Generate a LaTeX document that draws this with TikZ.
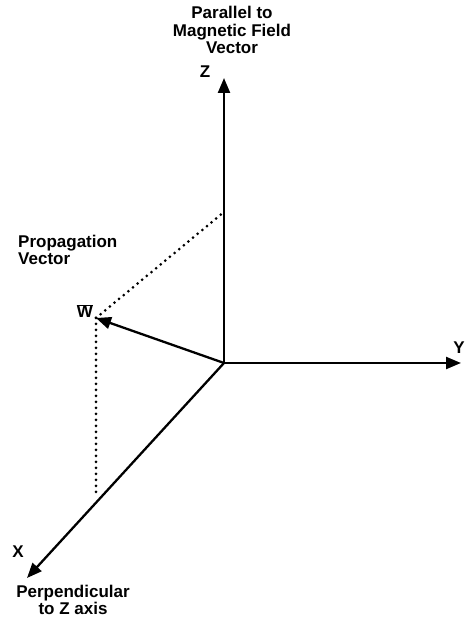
\documentclass[tikz,border=0pt]{standalone}
\usepackage{fontspec}
\setmainfont{Liberation Sans}
\usetikzlibrary{arrows.meta}

\begin{document}
\begin{tikzpicture}[x=1pt,y=1pt,
             axis/.style={line width=2.3pt,-{Triangle[length=15pt,width=12pt]}},
             proj/.style={line width=3pt,line cap=round,dash pattern=on 0pt off 6pt},
             lbl/.style={font=\fontsize{17}{17.5}\selectfont\bfseries,align=center,inner sep=0pt}]
            \useasboundingbox (0,0) rectangle (466,622);
            \draw (224,259) coordinate (O);
            \draw (224,544) coordinate (Z);
            \draw (461,259) coordinate (Y);
            \draw (27,44) coordinate (X);
            \draw (96,304) coordinate (W);
            \draw (224,410) coordinate (Zp);
            \draw (96,127) coordinate (Xp);
            \draw[axis] (O)--(Z);
            \draw[axis] (O)--(Y);
            \draw[axis] (O)--(X);
            \draw[axis] (O)--(W);
            \draw[proj] (W)--(Zp);
            \draw[proj] (W)--(Xp);
            \draw (232,592) node[lbl] (par) {Parallel to\\Magnetic Field\\Vector};
            \draw (205,550) node[lbl] (zl) {Z};
            \draw (465,268) node[lbl,anchor=south east] (yl) {Y};
            \draw (18,70) node[lbl] (xl) {X};
            \draw (85,311) node[lbl] (wl) {$\overline{\mathbf{W}}$};
            \draw (18,372) node[lbl,anchor=west,align=left] (prop) {Propagation\\Vector};
            \draw (73,22) node[lbl] (perp) {Perpendicular\\to Z axis};
\end{tikzpicture}
\end{document}
